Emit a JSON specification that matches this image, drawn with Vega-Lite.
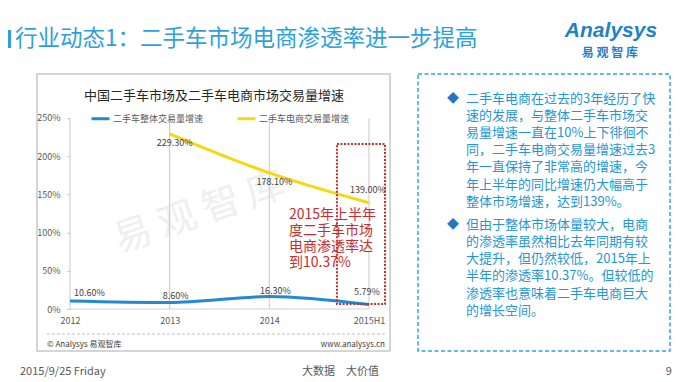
{
  "$schema": "https://vega.github.io/schema/vega-lite/v6.json",
  "padding": 0,
  "background": "#ffffff",
  "spacing": 7,
  "resolve": {"legend": {"color": "independent"}, "scale": {"x": "independent", "y": "independent", "color": "independent"}},
  "config": {
    "font": "Noto Sans CJK SC",
    "view": {"stroke": null},
    "text": {"font": "Noto Sans CJK SC"}
  },
  "datasets": {
    "growth": [
      {"year": 2012, "series": "二手车整体交易量增速", "value": 0.106},
      {"year": 2013, "series": "二手车整体交易量增速", "value": 0.086},
      {"year": 2014, "series": "二手车整体交易量增速", "value": 0.163},
      {"year": 2015, "series": "二手车整体交易量增速", "value": 0.0579},
      {"year": 2013, "series": "二手车电商交易量增速", "value": 2.293},
      {"year": 2014, "series": "二手车电商交易量增速", "value": 1.781},
      {"year": 2015, "series": "二手车电商交易量增速", "value": 1.39}
    ],
    "notes": [
      {"para": 1, "body": "二手车电商在过去的3年经历了快\n速的发展，与整体二手车市场交\n易量增速一直在10%上下徘徊不\n同，二手车电商交易量增速过去3\n年一直保持了非常高的增速，今\n年上半年的同比增速仍大幅高于\n整体市场增速，达到139%。"},
      {"para": 2, "body": "但由于整体市场体量较大，电商\n的渗透率虽然相比去年同期有较\n大提升，但仍然较低，2015年上\n半年的渗透率10.37%。但较低的\n渗透率也意味着二手车电商巨大\n的增长空间。"}
    ]
  },
  "vconcat": [
    {
      "width": 680,
      "height": 66,
      "data": {"values": [{}]},
      "layer": [
        {
          "mark": {"type": "rule", "color": "#2ea1dc", "strokeWidth": 3},
          "encoding": {
            "x": {"datum": 0.014, "type": "quantitative", "scale": {"domain": [0, 1], "nice": false, "zero": false}, "axis": null},
            "y": {"datum": 0.4545, "type": "quantitative", "scale": {"domain": [0, 1], "reverse": true, "nice": false, "zero": false}, "axis": null},
            "y2": {"datum": 0.7273}
          }
        },
        {
          "mark": {"type": "text", "text": "行业动态1：二手车市场电商渗透率进一步提高", "align": "left", "baseline": "middle", "fontSize": 22.5, "fill": "#2ea1dc"},
          "encoding": {
            "x": {"datum": 0.0221, "type": "quantitative"},
            "y": {"datum": 0.5909, "type": "quantitative"}
          }
        },
        {
          "mark": {"type": "text", "text": "Analysys", "align": "center", "baseline": "middle", "fontSize": 21, "font": "Liberation Sans", "fontStyle": "italic", "fontWeight": "bold", "fill": "#1f80c8"},
          "encoding": {
            "x": {"datum": 0.8985, "type": "quantitative"},
            "y": {"datum": 0.4697, "type": "quantitative"}
          }
        },
        {
          "mark": {"type": "text", "text": "易 观 智 库", "align": "center", "baseline": "middle", "fontSize": 12, "fontWeight": "bold", "fill": "#1f80c8"},
          "encoding": {
            "x": {"datum": 0.897, "type": "quantitative"},
            "y": {"datum": 0.803, "type": "quantitative"}
          }
        }
      ]
    },
    {
      "spacing": 26,
      "resolve": {"legend": {"color": "independent"}, "scale": {"x": "independent", "y": "independent", "color": "independent"}},
      "hconcat": [
        {
          "width": 9,
          "height": 277,
          "data": {"values": []},
          "mark": "point"
        },
        {
          "width": 353,
          "height": 277,
          "view": {"stroke": "#c8c8c8", "strokeWidth": 1.5},
          "data": {"name": "growth"},
          "layer": [
            {
              "data": {"values": [{}]},
              "mark": {"type": "text", "text": "易 观 智 库", "align": "center", "baseline": "middle", "fontSize": 38, "angle": -19, "fill": "#d9d9d9", "opacity": 0.4},
              "encoding": {
                "x": {"datum": 2013.3, "type": "quantitative"},
                "y": {"datum": 1.25, "type": "quantitative"}
              }
            },
            {
              "transform": [{"filter": "datum.series == '二手车整体交易量增速'"}],
              "mark": {"type": "rule", "color": "#c8c8c8", "strokeWidth": 1},
              "encoding": {
                "x": {"field": "year", "type": "quantitative"},
                "y": {"datum": 0, "type": "quantitative"},
                "y2": {"datum": 2.5}
              }
            },
            {
              "data": {"values": [{}]},
              "mark": {"type": "rule", "color": "#d0d0d0", "strokeWidth": 1},
              "encoding": {
                "x": {"datum": 2012, "type": "quantitative"},
                "x2": {"datum": 2015},
                "y": {"datum": 0, "type": "quantitative"}
              }
            },
            {
              "mark": {"type": "line", "interpolate": "monotone", "strokeWidth": 3},
              "encoding": {
                "x": {
                  "field": "year", "type": "quantitative",
                  "scale": {"domain": [2011.669, 2015.211], "nice": false, "zero": false},
                  "axis": {"values": [2012, 2013, 2014, 2015], "labelExpr": "datum.value == 2015 ? '2015H1' : '' + datum.value", "offset": -42, "domain": false, "ticks": false, "grid": false, "labelPadding": 7, "labelFontSize": 9, "labelColor": "#595959", "labelFlush": false, "labelOverlap": false, "title": null}
                },
                "y": {
                  "field": "value", "type": "quantitative",
                  "scale": {"domain": [-0.5497, 3.0759], "nice": false, "zero": false},
                  "axis": {"values": [0, 0.5, 1, 1.5, 2, 2.5], "format": ".0%", "offset": -33, "domain": false, "ticks": true, "tickSize": 3, "tickColor": "#c8c8c8", "grid": false, "labelPadding": 7, "labelFontSize": 9, "labelColor": "#595959", "title": null}
                },
                "color": {
                  "field": "series", "type": "nominal",
                  "scale": {"domain": ["二手车整体交易量增速", "二手车电商交易量增速"], "range": ["#2389d3", "#f6d80f"]},
                  "legend": {"orient": "none", "legendX": 53, "legendY": 34, "direction": "horizontal", "title": null, "symbolType": "stroke", "symbolSize": 324, "symbolStrokeWidth": 3, "labelFontSize": 9, "labelColor": "#595959", "labelOffset": 2, "columnPadding": 27}
                }
              }
            },
            {
              "data": {"values": [{}]},
              "mark": {"type": "rect", "filled": false, "stroke": "#c62d2d", "strokeWidth": 2, "strokeDash": [2, 1.5]},
              "encoding": {
                "x": {"datum": 2014.679, "type": "quantitative"},
                "x2": {"datum": 2015.161},
                "y": {"datum": 2.16, "type": "quantitative"},
                "y2": {"datum": 0.065}
              }
            },
            {
              "transform": [{"filter": "datum.series == '二手车整体交易量增速' && datum.year == 2012"}],
              "mark": {"type": "text", "align": "left", "baseline": "middle", "dx": 4, "dy": -8, "fontSize": 9, "fill": "#404040"},
              "encoding": {
                "x": {"field": "year", "type": "quantitative"},
                "y": {"field": "value", "type": "quantitative"},
                "text": {"field": "value", "type": "quantitative", "format": ".2%"}
              }
            },
            {
              "transform": [{"filter": "datum.series == '二手车整体交易量增速' && datum.year >= 2013 && datum.year <= 2014"}],
              "mark": {"type": "text", "align": "center", "baseline": "middle", "dx": 6, "dy": -6, "fontSize": 9, "fill": "#404040"},
              "encoding": {
                "x": {"field": "year", "type": "quantitative"},
                "y": {"field": "value", "type": "quantitative"},
                "text": {"field": "value", "type": "quantitative", "format": ".2%"}
              }
            },
            {
              "transform": [{"filter": "datum.series == '二手车整体交易量增速' && datum.year == 2015"}],
              "mark": {"type": "text", "align": "center", "baseline": "middle", "dx": -2, "dy": -13, "fontSize": 9, "fill": "#404040"},
              "encoding": {
                "x": {"field": "year", "type": "quantitative"},
                "y": {"field": "value", "type": "quantitative"},
                "text": {"field": "value", "type": "quantitative", "format": ".2%"}
              }
            },
            {
              "transform": [{"filter": "datum.series == '二手车电商交易量增速' && datum.year <= 2014"}],
              "mark": {"type": "text", "align": "center", "baseline": "middle", "dx": 5, "dy": 9, "fontSize": 9, "fill": "#404040"},
              "encoding": {
                "x": {"field": "year", "type": "quantitative"},
                "y": {"field": "value", "type": "quantitative"},
                "text": {"field": "value", "type": "quantitative", "format": ".2%"}
              }
            },
            {
              "transform": [{"filter": "datum.series == '二手车电商交易量增速' && datum.year == 2015"}],
              "mark": {"type": "text", "align": "center", "baseline": "middle", "dx": -1, "dy": -13, "fontSize": 9, "fill": "#404040"},
              "encoding": {
                "x": {"field": "year", "type": "quantitative"},
                "y": {"field": "value", "type": "quantitative"},
                "text": {"field": "value", "type": "quantitative", "format": ".2%"}
              }
            },
            {
              "data": {"values": [{}]},
              "mark": {"type": "text", "text": "2015年上半年\n度二手车市场\n电商渗透率达\n到10.37%", "lineBreak": "\n", "lineHeight": 16, "align": "left", "baseline": "alphabetic", "fontSize": 14, "fill": "#c62d2d"},
              "encoding": {
                "x": {"datum": 2014.197, "type": "quantitative"},
                "y": {"datum": 1.174, "type": "quantitative"}
              }
            },
            {
              "data": {"values": [{}]},
              "mark": {"type": "text", "text": "中国二手车市场及二手车电商市场交易量增速", "align": "center", "baseline": "middle", "fontSize": 13, "fill": "#262626"},
              "encoding": {
                "x": {"datum": 2013.445, "type": "quantitative"},
                "y": {"datum": 2.788, "type": "quantitative"}
              }
            },
            {
              "data": {"values": [{}]},
              "mark": {"type": "rule", "color": "#c0c0c0", "strokeWidth": 1, "strokeDash": [3, 2]},
              "encoding": {
                "x": {"datum": 2011.769, "type": "quantitative"},
                "x2": {"datum": 2015.161},
                "y": {"datum": -0.327, "type": "quantitative"}
              }
            },
            {
              "data": {"values": [{}]},
              "mark": {"type": "text", "text": "© Analysys 易观智库", "align": "left", "baseline": "middle", "fontSize": 8, "fill": "#404040"},
              "encoding": {
                "x": {"datum": 2011.769, "type": "quantitative"},
                "y": {"datum": -0.465, "type": "quantitative"}
              }
            },
            {
              "data": {"values": [{}]},
              "mark": {"type": "text", "text": "www.analysys.cn", "align": "right", "baseline": "middle", "fontSize": 8, "fill": "#404040"},
              "encoding": {
                "x": {"datum": 2015.161, "type": "quantitative"},
                "y": {"datum": -0.465, "type": "quantitative"}
              }
            }
          ]
        },
        {
          "width": 252,
          "height": 277,
          "view": {"stroke": "#35a2dc", "strokeDash": [4, 2.5], "strokeWidth": 1.5},
          "data": {"name": "notes"},
          "layer": [
            {
              "mark": {"type": "text", "text": "◆", "align": "center", "baseline": "alphabetic", "fontSize": 12, "fill": "#1f78c1"},
              "encoding": {
                "x": {"datum": 0.1389, "type": "quantitative", "scale": {"domain": [0, 1], "nice": false, "zero": false}, "axis": null},
                "y": {"field": "para", "type": "quantitative", "scale": {"domain": [0.7736, 2.9667], "reverse": true, "nice": false, "zero": false}, "axis": null}
              }
            },
            {
              "mark": {"type": "text", "align": "left", "baseline": "alphabetic", "fontSize": 13, "lineHeight": 17.2, "lineBreak": "\n", "fill": "#2596d4"},
              "encoding": {
                "x": {"datum": 0.1905, "type": "quantitative"},
                "y": {"field": "para", "type": "quantitative"},
                "text": {"field": "body", "type": "nominal"}
              }
            }
          ]
        }
      ]
    },
    {
      "width": 680,
      "height": 25,
      "data": {"values": [{}]},
      "layer": [
        {
          "mark": {"type": "text", "text": "2015/9/25 Friday", "align": "left", "baseline": "middle", "fontSize": 11, "fill": "#595959"},
          "encoding": {
            "x": {"datum": 0.0294, "type": "quantitative", "scale": {"domain": [0, 1], "nice": false, "zero": false}, "axis": null},
            "y": {"datum": 0.52, "type": "quantitative", "scale": {"domain": [0, 1], "reverse": true, "nice": false, "zero": false}, "axis": null}
          }
        },
        {
          "mark": {"type": "text", "text": "大数据　大价值", "align": "center", "baseline": "middle", "fontSize": 11, "fill": "#595959"},
          "encoding": {
            "x": {"datum": 0.5007, "type": "quantitative"},
            "y": {"datum": 0.52, "type": "quantitative"}
          }
        },
        {
          "mark": {"type": "text", "text": "9", "align": "right", "baseline": "middle", "fontSize": 11, "fill": "#595959"},
          "encoding": {
            "x": {"datum": 0.988, "type": "quantitative"},
            "y": {"datum": 0.52, "type": "quantitative"}
          }
        }
      ]
    }
  ]
}
